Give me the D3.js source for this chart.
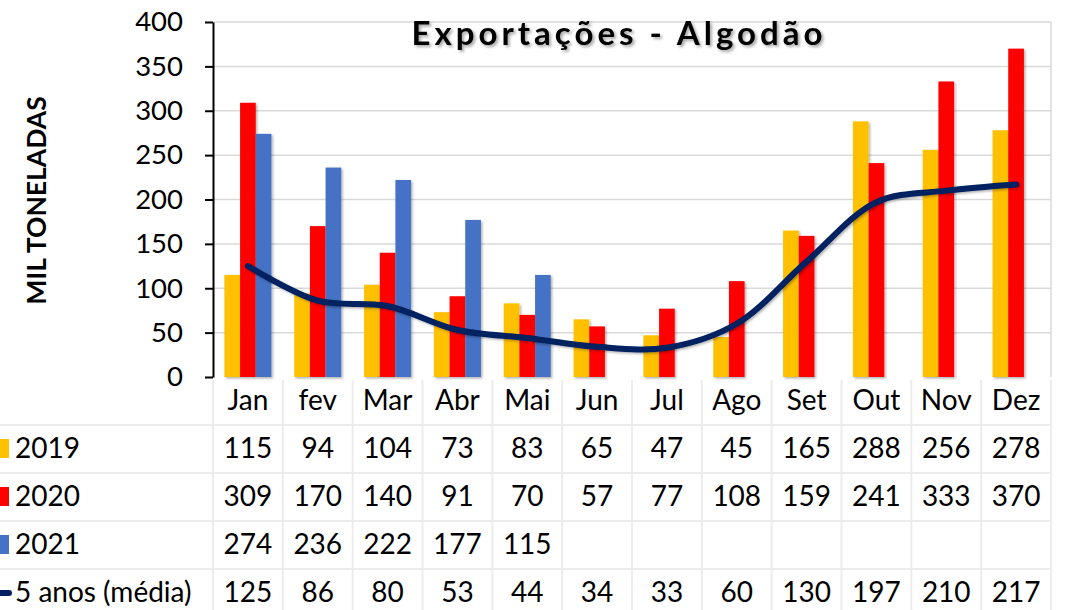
<!DOCTYPE html>
<html>
<head>
<meta charset="utf-8">
<script src="https://cdn.jsdelivr.net/npm/d3@7"></script>
<style>
  body { margin: 0; background: #fff; }
  svg { display: block; font-family: Lato, "Open Sans", sans-serif; }
</style>
</head>
<body>
<div id="chart"></div>
<script>
const months = ["Jan", "fev", "Mar", "Abr", "Mai", "Jun", "Jul", "Ago", "Set", "Out", "Nov", "Dez"];
const years = ["2019", "2020", "2021"];
const v2019 = [115, 94, 104, 73, 83, 65, 47, 45, 165, 288, 256, 278];
const v2020 = [309, 170, 140, 91, 70, 57, 77, 108, 159, 241, 333, 370];
const v2021 = [274, 236, 222, 177, 115];
const avg5 = [125, 86, 80, 53, 44, 34, 33, 60, 130, 197, 210, 217];
const avgLabel = "5 anos (média)";
const yTicks = [0, 50, 100, 150, 200, 250, 300, 350, 400];

const
    width = 1066,
    height = 610,
    margin = { top: 22, right: 15, bottom: 233, left: 213 },
    rowH = 48,
    fs = 28;

var colors = {
    "2019": "#FFC000",
    "2020": "#FF0000",
    "2021": "#4472C4",
    avg: "#002060"
};

const series = { "2019": v2019, "2020": v2020, "2021": v2021 };

const svg = d3.select("#chart").append("svg")
    .attr("width", width).attr("height", height);

const defs = svg.append("defs");
defs.append("filter").attr("id", "shadow")
    .attr("x", "-20%").attr("y", "-20%").attr("width", "140%").attr("height", "140%")
    .append("feDropShadow")
    .attr("dx", 1.5).attr("dy", 1.5).attr("stdDeviation", 1.2)
    .attr("flood-color", "#000").attr("flood-opacity", 0.3);
defs.append("filter").attr("id", "tshadow")
    .attr("x", "-10%").attr("y", "-30%").attr("width", "120%").attr("height", "160%")
    .append("feDropShadow")
    .attr("dx", 2).attr("dy", 2).attr("stdDeviation", 1.5)
    .attr("flood-color", "#000").attr("flood-opacity", 0.35);

const plotBottom = height - margin.bottom;

const x = d3.scaleBand()
    .domain(months)
    .range([margin.left, width - margin.right]);

const groupW = 47;
const x1 = d3.scaleBand()
    .domain(years)
    .range([(x.bandwidth() - groupW) / 2, (x.bandwidth() + groupW) / 2]);

const y = d3.scaleLinear()
    .domain([0, 400])
    .range([plotBottom, margin.top]);

// gridlines
svg.append("g")
    .selectAll("line")
    .data(yTicks.slice(1))
    .join("line")
    .attr("x1", margin.left).attr("x2", width - margin.right)
    .attr("y1", d => y(d)).attr("y2", d => y(d))
    .attr("stroke", "#d9d9d9").attr("stroke-width", 1.5);

// plot right border
svg.append("line")
    .attr("x1", width - margin.right).attr("x2", width - margin.right)
    .attr("y1", margin.top).attr("y2", plotBottom)
    .attr("stroke", "#d9d9d9").attr("stroke-width", 1.5);

// bars
const bars = svg.append("g").attr("filter", "url(#shadow)");
years.forEach(yr => {
    const vals = series[yr];
    bars.selectAll(".bar-" + yr)
        .data(vals.map((v, i) => ({ month: months[i], value: v })))
        .join("rect")
        .attr("class", "bar-" + yr)
        .attr("x", d => x(d.month) + x1(yr))
        .attr("width", x1.bandwidth())
        .attr("y", d => y(d.value))
        .attr("height", d => plotBottom - y(d.value))
        .attr("fill", colors[yr]);
});

// 5-year average line
const line = d3.line()
    .x((d, i) => x(months[i]) + x.bandwidth() / 2)
    .y(d => y(d))
    .curve(d3.curveCatmullRom.alpha(0.5));

svg.append("path")
    .datum(avg5)
    .attr("fill", "none")
    .attr("stroke", colors.avg)
    .attr("stroke-width", 6)
    .attr("stroke-linecap", "round")
    .attr("stroke-linejoin", "round")
    .attr("filter", "url(#shadow)")
    .attr("d", line);

// y axis
const yAxis = svg.append("g")
    .attr("transform", `translate(${margin.left},0)`)
    .call(d3.axisLeft(y).tickValues(yTicks).tickSize(8).tickSizeOuter(0).tickPadding(22));
yAxis.select(".domain").attr("stroke", "#000").attr("stroke-width", 2);
yAxis.selectAll(".tick line").attr("stroke", "#000").attr("stroke-width", 2);
yAxis.selectAll(".tick text")
    .attr("font-family", "Lato, sans-serif")
    .attr("font-size", 27.5)
    .attr("fill", "#000");

// title
svg.append("text")
    .attr("x", 619)
    .attr("y", 45)
    .attr("text-anchor", "middle")
    .attr("font-size", 33)
    .attr("font-weight", "bold")
    .attr("letter-spacing", 4)
    .attr("fill", "#000")
    .attr("filter", "url(#tshadow)")
    .text("Exportações - Algodão");

// y axis title
svg.append("text")
    .attr("transform", `translate(46,${(margin.top + plotBottom) / 2 + 1}) rotate(-90)`)
    .attr("text-anchor", "middle")
    .attr("font-size", 26.5)
    .attr("font-weight", "bold")
    .attr("fill", "#000")
    .text("MIL TONELADAS");

// data table
const table = svg.append("g");
const rowTop = i => plotBottom + rowH * i;
const tableBottom = height;

// horizontal row lines
table.selectAll(".hline")
    .data([1, 2, 3, 4])
    .join("line")
    .attr("class", "hline")
    .attr("x1", 0).attr("x2", width - margin.right)
    .attr("y1", d => rowTop(d)).attr("y2", d => rowTop(d))
    .attr("stroke", "#ececec").attr("stroke-width", 2);

// vertical column lines
table.selectAll(".vline")
    .data(months.concat(["end"]))
    .join("line")
    .attr("class", "vline")
    .attr("x1", (d, i) => margin.left + i * x.bandwidth())
    .attr("x2", (d, i) => margin.left + i * x.bandwidth())
    .attr("y1", plotBottom + 3).attr("y2", tableBottom)
    .attr("stroke", "#ececec").attr("stroke-width", 2);

// month header
table.selectAll(".month")
    .data(months)
    .join("text")
    .attr("class", "month")
    .attr("x", d => x(d) + x.bandwidth() / 2)
    .attr("y", rowTop(0) + rowH / 2 + 9)
    .attr("text-anchor", "middle")
    .attr("font-size", fs)
    .attr("fill", "#000")
    .text(d => d);

const rows = [
    { label: "2019", vals: v2019, color: colors["2019"], key: "box" },
    { label: "2020", vals: v2020, color: colors["2020"], key: "box" },
    { label: "2021", vals: v2021, color: colors["2021"], key: "box" },
    { label: avgLabel, vals: avg5, color: colors.avg, key: "line" }
];

rows.forEach((r, ri) => {
    const cy = rowTop(ri + 1) + rowH / 2;
    if (r.key === "box") {
        table.append("rect")
            .attr("x", -9).attr("y", cy - 10)
            .attr("width", 18).attr("height", 19)
            .attr("fill", r.color);
    } else {
        table.append("line")
            .attr("x1", 0).attr("x2", 9)
            .attr("y1", cy).attr("y2", cy)
            .attr("stroke", r.color).attr("stroke-width", 6)
            .attr("stroke-linecap", "round");
    }
    table.append("text")
        .attr("x", 15)
        .attr("y", cy + 9)
        .attr("font-size", fs)
        .attr("fill", "#000")
        .text(r.label);

    table.selectAll(".val-" + ri)
        .data(r.vals)
        .join("text")
        .attr("class", "val-" + ri)
        .attr("x", (d, i) => x(months[i]) + x.bandwidth() / 2)
        .attr("y", cy + 9)
        .attr("text-anchor", "middle")
        .attr("font-size", fs)
        .attr("fill", "#000")
        .text(d => d);
});
</script>
</body>
</html>
